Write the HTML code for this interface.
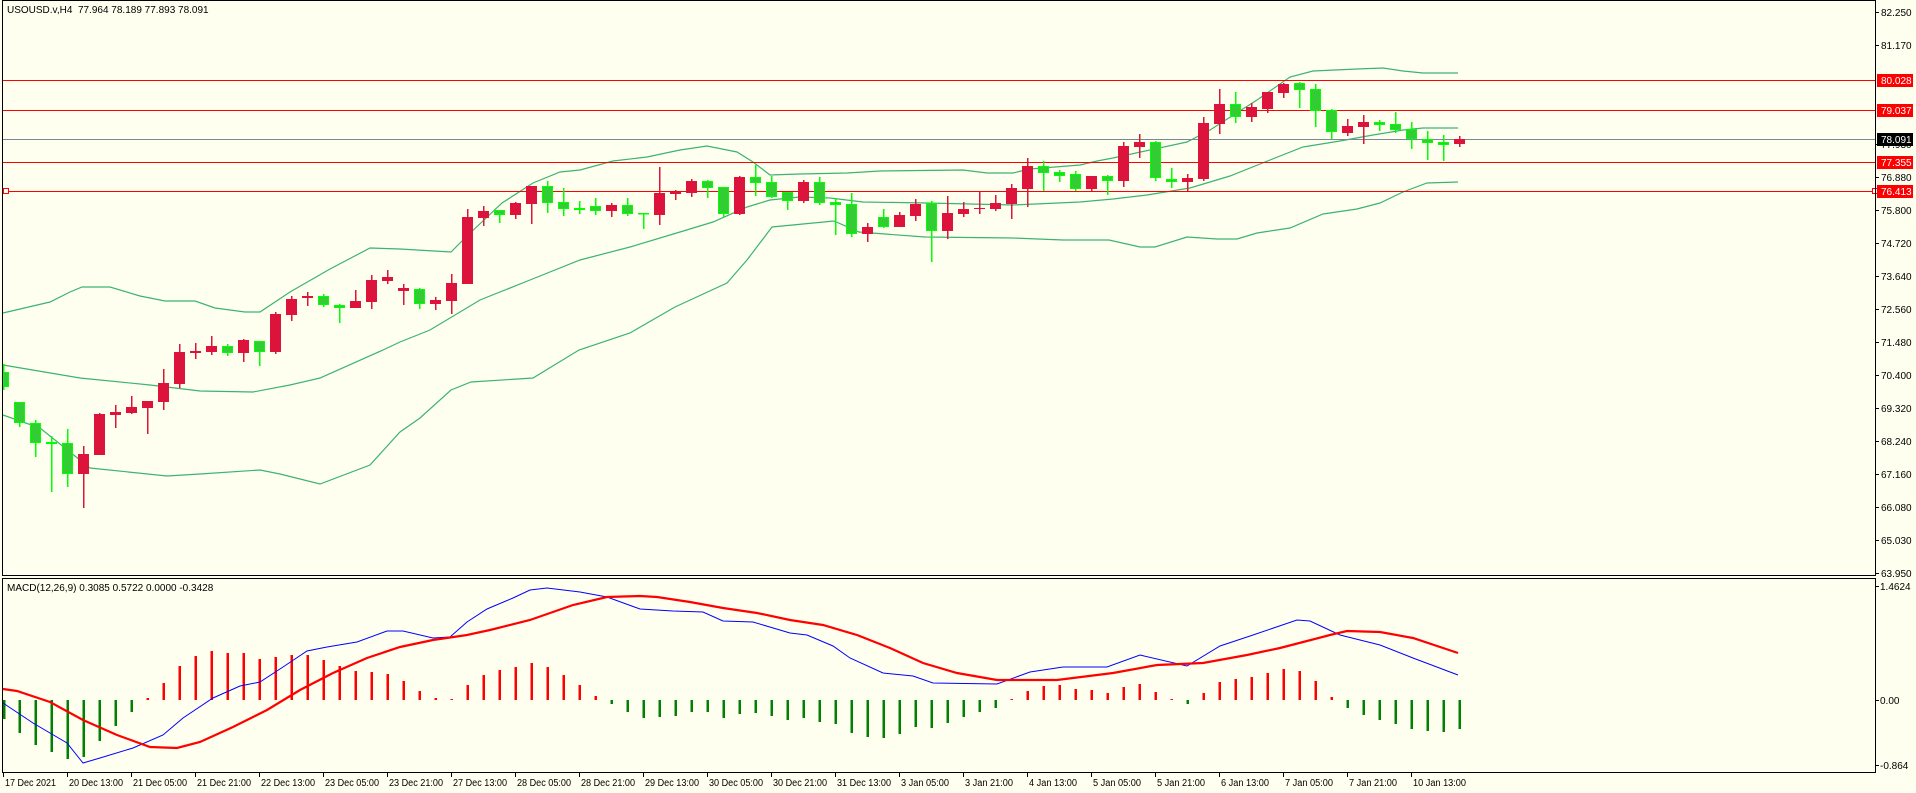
<!DOCTYPE html>
<html><head><meta charset="utf-8"><style>
html,body{margin:0;padding:0;background:#fffff0;}
svg{display:block;font-family:"Liberation Sans",sans-serif;font-size:10px;}
</style></head><body>
<svg id="s" width="1916" height="793" viewBox="0 0 1916 793" xmlns="http://www.w3.org/2000/svg">
<rect width="1916" height="793" fill="#fffff0"/>
<g id="bands" fill="none" stroke="#3cb371" stroke-width="1"></g>
<g id="hl">
<line x1="3" y1="80.5" x2="1875" y2="80.5" stroke="#ff0000"/>
<line x1="3" y1="110.5" x2="1875" y2="110.5" stroke="#ff0000"/>
<line x1="3" y1="139.5" x2="1875" y2="139.5" stroke="#778899"/>
<line x1="3" y1="162.5" x2="1875" y2="162.5" stroke="#ff0000"/>
<line x1="3" y1="191.5" x2="1875" y2="191.5" stroke="#ff0000"/>
<rect x="3.5" y="188.5" width="5" height="5" fill="#fff" stroke="#ff0000"/>
<rect x="1872.5" y="188.5" width="5" height="5" fill="#fff" stroke="#ff0000"/>
</g>
<g id="candles"></g>
<g id="macd"></g>
<g fill="none" stroke="#000" stroke-width="1">
<rect x="2.5" y="0.5" width="1873" height="575"/>
<rect x="2.5" y="578.5" width="1873" height="194"/>
</g>
<text x="7" y="13" fill="#000">USOUSD.v,H4&#160;&#160;77.964 78.189 77.893 78.091</text>
<text x="7" y="591" fill="#000">MACD(12,26,9) 0.3085 0.5722 0.0000 -0.3428</text>
<g id="ticks" stroke="#000"></g>
<g fill="#000">
<text x="1881" y="16">82.250</text>
<text x="1881" y="49">81.170</text>
<text x="1881" y="148">77.930</text>
<text x="1881" y="181">76.880</text>
<text x="1881" y="214">75.800</text>
<text x="1881" y="247">74.720</text>
<text x="1881" y="280">73.640</text>
<text x="1881" y="313">72.560</text>
<text x="1881" y="346">71.480</text>
<text x="1881" y="379">70.400</text>
<text x="1881" y="412">69.320</text>
<text x="1881" y="445">68.240</text>
<text x="1881" y="478">67.160</text>
<text x="1881" y="511">66.080</text>
<text x="1881" y="544">65.030</text>
<text x="1881" y="577">63.950</text>
<text x="1880" y="590">1.4624</text>
<text x="1880" y="704">0.00</text>
<text x="1880" y="769">-0.864</text>
</g>
<rect x="1877" y="74" width="36" height="13" fill="#ff0000"/>
<text x="1881" y="84" fill="#fff">80.028</text>
<rect x="1877" y="104" width="36" height="13" fill="#ff0000"/>
<text x="1881" y="114" fill="#fff">79.037</text>
<rect x="1877" y="133" width="36" height="13" fill="#000"/>
<text x="1881" y="143" fill="#fff">78.091</text>
<rect x="1877" y="156" width="36" height="13" fill="#ff0000"/>
<text x="1881" y="166" fill="#fff">77.355</text>
<rect x="1877" y="185" width="36" height="13" fill="#ff0000"/>
<text x="1881" y="195" fill="#fff">76.413</text>
<g fill="#000" font-size="10">
<text x="5" y="786" textLength="51" lengthAdjust="spacingAndGlyphs">17 Dec 2021</text>
<text x="69" y="786" textLength="54" lengthAdjust="spacingAndGlyphs">20 Dec 13:00</text>
<text x="133" y="786" textLength="54" lengthAdjust="spacingAndGlyphs">21 Dec 05:00</text>
<text x="197" y="786" textLength="54" lengthAdjust="spacingAndGlyphs">21 Dec 21:00</text>
<text x="261" y="786" textLength="54" lengthAdjust="spacingAndGlyphs">22 Dec 13:00</text>
<text x="325" y="786" textLength="54" lengthAdjust="spacingAndGlyphs">23 Dec 05:00</text>
<text x="389" y="786" textLength="54" lengthAdjust="spacingAndGlyphs">23 Dec 21:00</text>
<text x="453" y="786" textLength="54" lengthAdjust="spacingAndGlyphs">27 Dec 13:00</text>
<text x="517" y="786" textLength="54" lengthAdjust="spacingAndGlyphs">28 Dec 05:00</text>
<text x="581" y="786" textLength="54" lengthAdjust="spacingAndGlyphs">28 Dec 21:00</text>
<text x="645" y="786" textLength="54" lengthAdjust="spacingAndGlyphs">29 Dec 13:00</text>
<text x="709" y="786" textLength="54" lengthAdjust="spacingAndGlyphs">30 Dec 05:00</text>
<text x="773" y="786" textLength="54" lengthAdjust="spacingAndGlyphs">30 Dec 21:00</text>
<text x="837" y="786" textLength="54" lengthAdjust="spacingAndGlyphs">31 Dec 13:00</text>
<text x="901" y="786" textLength="48" lengthAdjust="spacingAndGlyphs">3 Jan 05:00</text>
<text x="965" y="786" textLength="48" lengthAdjust="spacingAndGlyphs">3 Jan 21:00</text>
<text x="1029" y="786" textLength="48" lengthAdjust="spacingAndGlyphs">4 Jan 13:00</text>
<text x="1093" y="786" textLength="48" lengthAdjust="spacingAndGlyphs">5 Jan 05:00</text>
<text x="1157" y="786" textLength="48" lengthAdjust="spacingAndGlyphs">5 Jan 21:00</text>
<text x="1221" y="786" textLength="48" lengthAdjust="spacingAndGlyphs">6 Jan 13:00</text>
<text x="1285" y="786" textLength="48" lengthAdjust="spacingAndGlyphs">7 Jan 05:00</text>
<text x="1349" y="786" textLength="48" lengthAdjust="spacingAndGlyphs">7 Jan 21:00</text>
<text x="1413" y="786" textLength="53" lengthAdjust="spacingAndGlyphs">10 Jan 13:00</text>
</g>
</svg>
<script>
(function(){
var NS="http://www.w3.org/2000/svg";
function el(p,t,a){var e=document.createElementNS(NS,t);for(var k in a)e.setAttribute(k,a[k]);document.getElementById(p).appendChild(e);return e;}
function pl(p,pts,st,w){el(p,"polyline",{points:pts.map(function(q){return q.join(",")}).join(" "),fill:"none",stroke:st,"stroke-width":w});}
var up=[[3,313],[50,302],[70,292],[82,287],[110,287],[140,296],[165,301],[195,301],[215,308],[245,312],[260,312],[290,292],[330,269],[370,248],[400,249],[451,252],[466,237],[502,203],[533,183],[560,172],[580,170],[613,161],[647,157],[680,150],[707,146],[737,152],[753,162],[770,175],[800,174],[847,173],[880,171],[963,170],[987,173],[1013,173],[1030,169],[1080,165],[1097,161],[1113,158],[1187,142],[1210,130],[1257,100],[1290,77],[1313,71],[1357,69],[1383,68],[1403,71],[1423,73],[1458,73]];
var mid=[[3,365],[80,378],[150,385],[200,391],[253,392],[290,385],[320,378],[383,350],[400,342],[430,330],[480,300],[530,280],[580,260],[630,247],[680,232],[713,222],[747,207],[770,200],[800,197],[830,198],[863,202],[927,203],[1013,205],[1080,202],[1113,199],[1147,195],[1190,188],[1230,176],[1270,160],[1303,147],[1340,141],[1373,135],[1403,130],[1423,128],[1458,128]];
var lo=[[3,415],[40,428],[90,468],[167,476],[200,474],[260,470],[280,474],[320,484],[370,465],[400,432],[420,418],[451,390],[471,382],[533,378],[579,350],[630,333],[675,307],[727,283],[747,260],[772,227],[834,221],[859,232],[885,234],[925,237],[1012,238],[1063,240],[1109,240],[1140,247],[1155,247],[1187,237],[1217,239],[1237,239],[1257,233],[1290,228],[1323,214],[1357,209],[1380,203],[1403,192],[1427,183],[1458,182]];
pl("bands",up,"#3cb371",1.2);pl("bands",mid,"#3cb371",1.2);pl("bands",lo,"#3cb371",1.2);
var C=[
"g",372,387,364,390,"g",402,423,402,427,"g",423,443,420,457,"g",442,444,436,492,"g",443,474,429,487,"r",454,474,446,508,"r",414,455,413,455,"r",412,415,405,428,"r",407,413,396,414,"r",401,408,401,434,
"r",383,402,369,410,"r",352,384,344,388,"r",351,353,343,359,"r",346,352,336,355,"g",346,353,344,356,"r",340,353,339,362,"g",341,352,341,366,"r",314,352,312,354,"r",299,315,296,321,"r",296,298,292,306,
"g",296,305,294,307,"g",305,308,304,323,"r",301,308,290,308,"r",280,302,275,309,"r",277,281,270,284,"r",288,291,284,305,"g",289,304,288,309,"r",300,304,297,310,"r",283,301,274,314,"r",217,284,209,284,
"r",211,218,206,226,"g",210,215,210,223,"r",203,215,202,219,"r",186,204,186,224,"g",186,203,181,213,"g",202,209,188,216,"g",208,210,201,214,"g",206,211,198,215,"r",205,211,203,217,"g",205,214,198,216,
"g",213,214,213,229,"r",193,215,167,225,"r",192,194,190,200,"r",181,193,179,197,"g",181,188,180,198,"g",187,214,187,217,"r",177,214,176,215,"g",177,183,165,196,"g",182,197,176,198,"g",192,201,192,210,
"r",182,201,180,203,"g",182,203,177,205,"g",202,205,198,235,"g",204,234,193,237,"r",227,234,223,242,"g",217,227,209,228,"r",215,227,212,227,"r",204,216,199,221,"g",203,231,201,262,"r",213,231,196,239,
"r",209,214,202,217,"r",208,209,192,214,"r",203,209,195,211,"r",188,204,184,219,"r",166,189,158,207,"g",166,173,161,191,"g",172,176,170,182,"g",174,189,171,191,"r",176,189,176,191,"g",176,181,175,195,
"r",146,181,142,187,"r",142,147,134,158,"g",142,178,141,181,"g",179,182,168,188,"r",178,182,174,191,"r",123,179,117,181,"r",104,124,89,134,"g",104,117,92,123,"r",107,117,103,122,"r",92,109,92,113,
"r",84,93,83,98,"g",83,90,82,108,"g",89,111,84,127,"g",110,132,109,139,"r",126,133,119,136,"r",122,127,115,144,"g",122,125,120,131,"g",124,130,112,133,"g",129,139,122,149,"g",139,143,131,160,
"g",142,145,135,161,"r",139,144,136,147];
for(var i=0;i<C.length/5;i++){var c=C[i*5],bt=C[i*5+1],bb=C[i*5+2],wt=C[i*5+3],wb=C[i*5+4];var cx=3.5+16*i;
var wc=c=="r"?"#dc143c":"#00ff00";
el("candles","rect",{x:cx-0.5,y:wt,width:1.5,height:wb-wt,fill:wc});
var x0=Math.max(3,cx-5.5),x1=cx+5.5;var h=Math.max(1,bb-bt);
if(c=="r")el("candles","rect",{x:x0,y:bt,width:x1-x0,height:h,fill:"#dc143c"});
else el("candles","rect",{x:x0+0.5,y:bt+0.5,width:x1-x0-1,height:Math.max(0.5,h-1),fill:"#32cd32",stroke:"#00ff00","stroke-width":1});
}
var H=[719,733,745,752,759,757,741,726,712,698,683,666,656,651,653,653,659,657,655,655,660,666,671,672,674,681,691,698,699,685,675,670,667,663,667,675,685,696,704,712,718,717,716,712,712,718,714,713,716,720,718,722,724,733,737,738,734,727,728,723,717,712,708,699,691,686,685,689,690,693,687,684,692,699,704,693,682,679,677,673,669,671,681,697,708,715,720,724,729,731,732,729];
for(var i=0;i<H.length;i++){var x=3+16*i,v=H[i];var yt=Math.min(v,700),ht=Math.max(1,Math.abs(v-700));
el("macd","rect",{x:Math.max(3,x-0.5),y:yt,width:2.5,height:ht,fill:v>700?"#008000":"#ff0000"});}
var blue=[[3,703],[33,723],[67,743],[83,763],[100,758],[133,748],[163,735],[183,718],[213,698],[240,686],[260,682],[283,667],[307,651],[327,647],[357,642],[387,631],[403,631],[433,638],[450,637],[467,622],[487,609],[513,598],[530,590],[547,588],[580,592],[607,597],[640,609],[673,611],[703,612],[723,621],[753,622],[790,633],[807,635],[833,646],[850,658],[883,673],[913,676],[933,683],[997,684],[1030,672],[1063,667],[1107,667],[1140,655],[1187,666],[1220,646],[1253,635],[1297,620],[1310,621],[1340,635],[1380,645],[1413,658],[1458,675]];
var red=[[3,689],[17,691],[50,702],[83,720],[117,735],[150,747],[177,748],[200,742],[233,727],[267,710],[300,690],[333,673],[367,658],[400,647],[433,640],[467,635],[490,630],[530,620],[573,605],[607,597],[640,596],[657,597],[690,602],[723,608],[757,613],[790,620],[823,625],[857,635],[890,648],[923,663],[957,673],[997,680],[1057,680],[1113,673],[1157,665],[1203,663],[1247,655],[1280,648],[1330,635],[1347,631],[1380,632],[1413,638],[1458,653]];
pl("macd",blue,"#0000ff",1);pl("macd",red,"#ff0000",2.2);
var ty=[12,45,144,177,210,243,276,309,342,375,408,441,474,507,540,573,586,700,765];
ty.forEach(function(y){el("ticks","line",{x1:1876,y1:y+0.5,x2:1879,y2:y+0.5});});
for(var i=0;i<23;i++){var x=3+64*i+0.5;el("ticks","line",{x1:x,y1:773,x2:x,y2:777});}
})();
</script>
</body></html>
